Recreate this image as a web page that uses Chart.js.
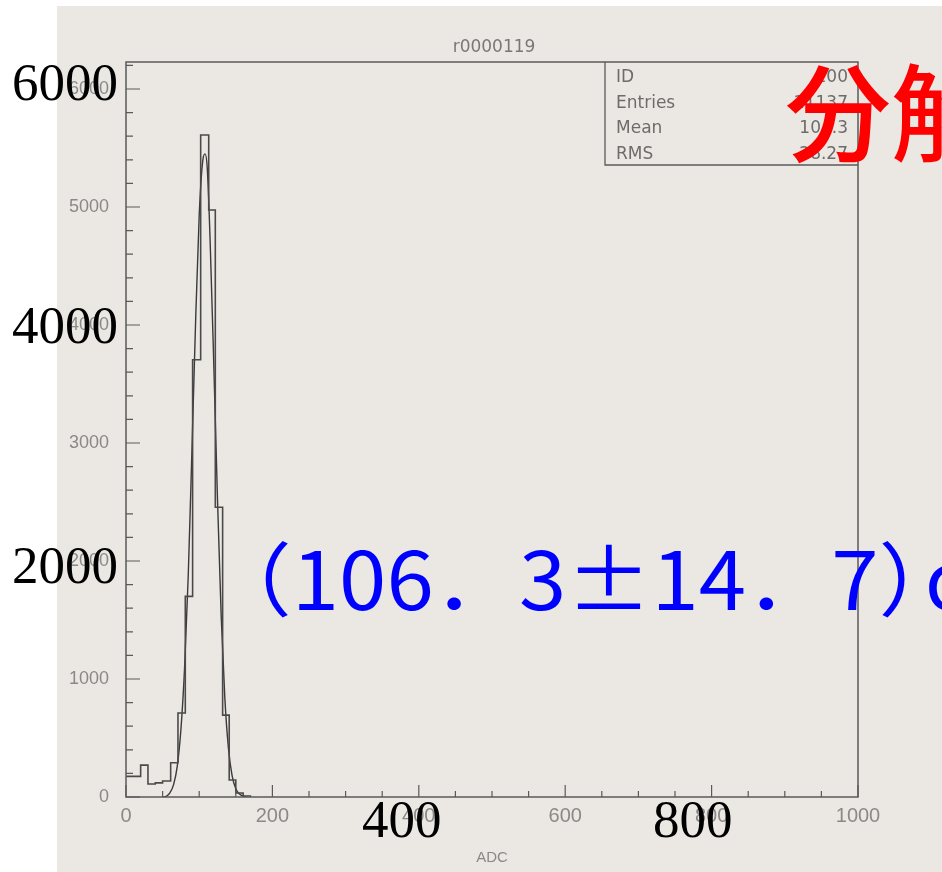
<!DOCTYPE html>
<html>
<head>
<meta charset="utf-8">
<script src="https://cdn.jsdelivr.net/npm/chart.js@4.4.1/dist/chart.umd.min.js"></script>
<style>
  html, body { margin: 0; padding: 0; background: #ffffff; }
  canvas { display: block; }
</style>
</head>
<body>
<canvas id="myChart" width="942" height="872"></canvas>
<script>
// histogram bin left edges (ADC) and counts
const binEdges = [0, 10, 20, 30, 40, 50, 61, 71, 81, 91, 102, 113, 122, 132, 141, 150, 160, 170];
const binCounts = [175, 175, 270, 110, 120, 135, 290, 712, 1700, 3705, 5610, 4975, 2455, 694, 144, 34, 8];

// gaussian fit curve
const fitX = [50, 55, 60, 65, 70, 75, 80, 85, 90, 95, 100, 105, 108, 111, 115, 120, 125, 130, 135, 140, 145, 150, 155, 160, 165];
const fitY = [0, 6, 35, 105, 260, 570, 1090, 1870, 2920, 4010, 4930, 5400, 5450, 5330, 4700, 3650, 2520, 1540, 840, 410, 180, 70, 25, 8, 0];

const yTicks = [0, 1000, 2000, 3000, 4000, 5000, 6000];
const xTicks = [0, 200, 400, 600, 800, 1000];

const statNames = ["ID", "Entries", "Mean", "RMS"];
const statValues = ["100", "21137", "104.3", "28.27"];

const histTitle = "r0000119";
const overlayY = ["6000", "4000", "2000"];
const overlayX = ["400", "800"];

const histData = binEdges.map((e, i) => ({ x: e, y: i < binCounts.length ? binCounts[i] : 0 }));
const fitData = fitX.map((x, i) => ({ x: x, y: fitY[i] }));

const gray = "#8b8987";

const decor = {
    id: "decor",
    beforeDraw(chart) {
        const c = chart.ctx;
        c.save();
        c.fillStyle = "#ffffff";
        c.fillRect(0, 0, chart.width, chart.height);
        c.fillStyle = "#ebe8e4";
        c.fillRect(57, 6, chart.width - 57, chart.height - 6);
        c.restore();
    },
    afterDraw(chart) {
        const c = chart.ctx;
        const a = chart.chartArea;
        const xs = chart.scales.x, ys = chart.scales.y;
        c.save();
        // frame
        c.strokeStyle = "#5a5a5a";
        c.lineWidth = 1.5;
        c.strokeRect(a.left, a.top, a.right - a.left, a.bottom - a.top);
        // inner tick marks
        c.lineWidth = 1.2;
        c.beginPath();
        for (let v = 0; v <= 6200; v += 200) {
            const py = ys.getPixelForValue(v);
            const len = v % 1000 === 0 ? 14 : 7;
            c.moveTo(a.left, py); c.lineTo(a.left + len, py);
        }
        for (let v = 0; v <= 1000; v += 50) {
            const px = xs.getPixelForValue(v);
            const len = v % 200 === 0 ? 12 : 6;
            c.moveTo(px, a.bottom); c.lineTo(px, a.bottom - len);
        }
        c.stroke();

        // title
        c.fillStyle = "#7a7876";
        c.font = "17px 'DejaVu Sans'";
        c.textAlign = "center";
        c.textBaseline = "alphabetic";
        c.fillText(histTitle, 494, 52);

        // stats box
        c.strokeStyle = "#5a5a5a";
        c.lineWidth = 1.3;
        c.beginPath();
        c.moveTo(605, a.top); c.lineTo(605, 165); c.lineTo(a.right, 165);
        c.stroke();
        c.font = "17px 'DejaVu Sans'";
        c.fillStyle = "#6e6c6a";
        statNames.forEach((n, i) => {
            const by = 82 + i * 25.5;
            c.textAlign = "left";
            c.fillText(n, 616, by);
            c.textAlign = "right";
            c.fillText(statValues[i], 848, by);
        });

        // red text
        c.fillStyle = "#ff0000";
        c.font = "500 106px 'Noto Sans CJK JP'";
        c.textAlign = "left";
        c.fillText("分解能", 785, 153);

        // blue text, fitted to its ink extent in the scan
        c.fillStyle = "#0000ff";
        const main = "（106．3±14．7）";
        c.font = "100px 'Noto Sans CJK JP'";
        const one = c.measureText("1");
        const size = 57 / one.actualBoundingBoxAscent * 100;
        c.font = size + "px 'Noto Sans CJK JP'";
        const m = c.measureText(main);
        const inkW = m.actualBoundingBoxLeft + m.actualBoundingBoxRight;
        const sx = (905 - 265) / inkW;
        c.save();
        c.translate(265, 610);
        c.scale(sx, 1);
        c.textAlign = "left";
        c.fillText(main, m.actualBoundingBoxLeft, 0);
        c.restore();
        c.fillText("ch", 925, 610);

        // black overlay labels
        c.fillStyle = "#000000";
        c.font = "53px 'Liberation Serif'";
        c.textAlign = "left";
        const oyBase = [100, 343, 583];
        overlayY.forEach((t, i) => c.fillText(t, 12, oyBase[i]));
        const oxLeft = [362, 653];
        overlayX.forEach((t, i) => c.fillText(t, oxLeft[i], 837));
        c.restore();
    }
};

const ctx = document.getElementById("myChart").getContext("2d");

new Chart(ctx, {
    type: "line",
    data: {
        datasets: [
            {
                label: "histogram",
                data: histData,
                stepped: true,
                borderColor: "#4a4a4a",
                borderWidth: 1.6,
                pointRadius: 0,
                fill: false,
            },
            {
                label: "fit",
                data: fitData,
                borderColor: "#3a3a3a",
                borderWidth: 1.4,
                pointRadius: 0,
                cubicInterpolationMode: "monotone",
                fill: false,
            },
        ],
    },
    options: {
        responsive: false,
        animation: false,
        devicePixelRatio: 1,
        layout: { padding: { top: 62, right: 84, left: 0, bottom: 0 } },
        plugins: {
            legend: { display: false },
            tooltip: { enabled: false },
        },
        scales: {
            x: {
                type: "linear",
                min: 0,
                max: 1000,
                afterBuildTicks: (s) => { s.ticks = xTicks.map(v => ({ value: v })); },
                afterFit: (s) => { s.height = 75; },
                grid: { display: false, drawTicks: false },
                border: { display: false },
                ticks: {
                    color: gray,
                    padding: 7,
                    maxRotation: 0,
                    callback: (v) => String(v),
                    font: { family: "'Liberation Sans'", size: 20 },
                },
                title: {
                    display: true,
                    text: "ADC",
                    color: gray,
                    font: { family: "'Liberation Sans'", size: 15 },
                    padding: { top: 4, bottom: 5 },
                },
            },
            y: {
                min: 0,
                max: 6229,
                afterBuildTicks: (s) => { s.ticks = yTicks.map(v => ({ value: v })); },
                afterFit: (s) => { s.width = 126; },
                grid: { display: false, drawTicks: false },
                border: { display: false },
                ticks: {
                    color: gray,
                    padding: 17,
                    callback: (v) => String(v),
                    font: { family: "'Liberation Sans Narrow', 'Liberation Sans'", size: 18 },
                },
            },
        },
    },
    plugins: [decor],
});
</script>
</body>
</html>
